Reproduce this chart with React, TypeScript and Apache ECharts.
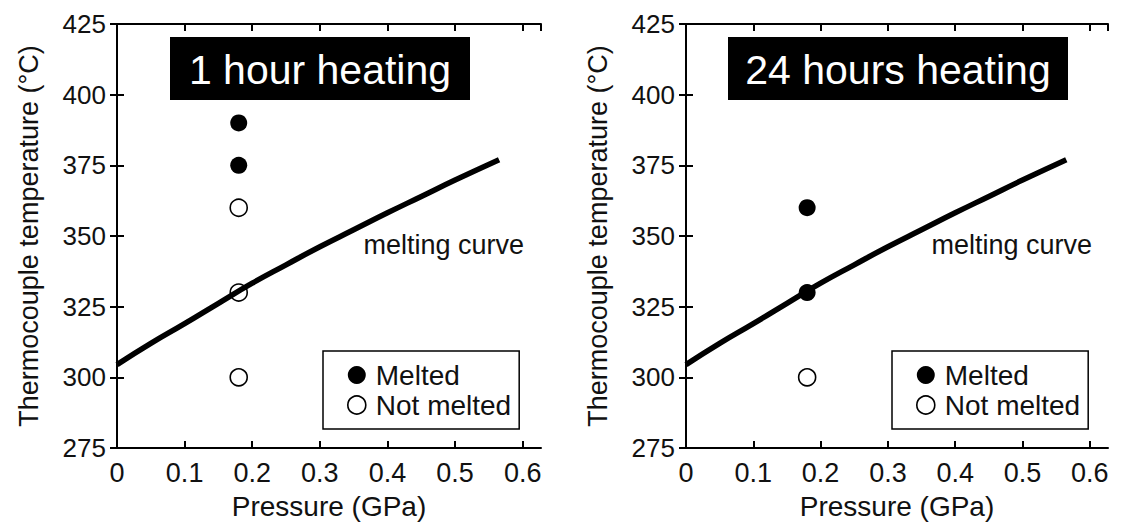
import React, { useEffect, useRef } from "react";
import * as echarts from "echarts";

// ---- data ----
const curvePressure = [0, 0.05, 0.1, 0.15, 0.2, 0.25, 0.3, 0.35, 0.4, 0.45, 0.5, 0.565];
const curveTemp = [304.5, 312, 319, 326.2, 333.3, 339.8, 346.2, 352.2, 358.2, 364, 369.8, 377];

const h1MeltedP = [0.18, 0.18];
const h1MeltedT = [390, 375];
const h1NotMeltedP = [0.18, 0.18, 0.18];
const h1NotMeltedT = [360, 330, 300];

const h24MeltedP = [0.18, 0.18];
const h24MeltedT = [360, 330];
const h24NotMeltedP = [0.18];
const h24NotMeltedT = [300];

const panelTitles = ["1 hour heating", "24 hours heating"];
const seriesNames = ["Melted", "Not melted"];
const curveLabel = "melting curve";
const xName = "Pressure (GPa)";
const yName = "Thermocouple temperature (°C)";

const X_MIN = 0, X_MAX = 0.627, X_INT = 0.1;
const Y_MIN = 275, Y_MAX = 425, Y_INT = 25;

const FONT = "'Liberation Sans', Arial, Helvetica, sans-serif";

const zip = (a: number[], b: number[]) => a.map((v, i) => [v, b[i]]);

export default function App() {
  const ref = useRef<HTMLDivElement>(null);
  useEffect(() => {
    if (!ref.current) return;
    const chart = echarts.init(ref.current, undefined, { renderer: "svg" });

    const grids = [
      { left: 117, top: 24, width: 424, height: 424 },
      { left: 686, top: 24, width: 422, height: 424 },
    ];

    const xLabelFmt = (v: number) => {
      const r = Math.round(v * 10);
      if (Math.abs(v * 10 - r) > 1e-6) return "";
      return r === 0 ? "0" : (r / 10).toFixed(1);
    };

    const axisLine = { show: true, lineStyle: { color: "#000", width: 2 } };
    const axisTick = { show: true, inside: true, length: 7, lineStyle: { color: "#000", width: 2 } };

    const xAxes: any[] = [];
    const yAxes: any[] = [];
    grids.forEach((_, gi) => {
      xAxes.push({
        type: "value", gridIndex: gi, position: "bottom", min: X_MIN, max: X_MAX, interval: X_INT,
        axisLine, axisTick, splitLine: { show: false },
        axisLabel: { show: true, formatter: xLabelFmt, color: "#111", fontSize: 27, fontFamily: FONT, margin: 11, showMaxLabel: false },
        name: xName, nameLocation: "middle", nameGap: 44,
        nameTextStyle: { color: "#111", fontSize: 28, fontFamily: FONT },
      });
      xAxes.push({
        type: "value", gridIndex: gi, position: "top", min: X_MIN, max: X_MAX, interval: X_INT,
        axisLine, axisTick, splitLine: { show: false }, axisLabel: { show: false },
      });
      yAxes.push({
        type: "value", gridIndex: gi, position: "left", min: Y_MIN, max: Y_MAX, interval: Y_INT,
        axisLine, axisTick, splitLine: { show: false },
        axisLabel: { show: true, color: "#111", fontSize: 26, fontFamily: FONT, margin: 11 },
        name: yName, nameLocation: "middle", nameGap: 75, nameRotate: 90,
        nameTextStyle: { color: "#111", fontSize: 27, fontFamily: FONT },
      });
      yAxes.push({
        type: "value", gridIndex: gi, position: "right", min: Y_MIN, max: Y_MAX, interval: Y_INT,
        axisLine, axisTick, splitLine: { show: false }, axisLabel: { show: false },
      });
    });

    const filled = { color: "#000", borderColor: "#000", borderWidth: 0, opacity: 1 };
    const open = { color: "#fff", borderColor: "#000", borderWidth: 1.6, opacity: 1 };

    const panelData = [
      { m: zip(h1MeltedP, h1MeltedT), n: zip(h1NotMeltedP, h1NotMeltedT) },
      { m: zip(h24MeltedP, h24MeltedT), n: zip(h24NotMeltedP, h24NotMeltedT) },
    ];

    const series: any[] = [];
    panelData.forEach((pd, gi) => {
      series.push({
        type: "scatter", name: seriesNames[1], xAxisIndex: gi * 2, yAxisIndex: gi * 2,
        data: pd.n, symbol: "circle", symbolSize: 17, itemStyle: open, z: 2,
      });
      series.push({
        type: "line", name: curveLabel, xAxisIndex: gi * 2, yAxisIndex: gi * 2,
        data: zip(curvePressure, curveTemp), smooth: true, showSymbol: false, symbol: "none",
        lineStyle: { color: "#000", width: 5.5 }, z: 3,
      });
      series.push({
        type: "scatter", name: seriesNames[0], xAxisIndex: gi * 2, yAxisIndex: gi * 2,
        data: pd.m, symbol: "circle", symbolSize: 17, itemStyle: filled, z: 4,
      });
    });

    const legendLefts = [323, 892];
    const legends = legendLefts.map((l) => ({
      orient: "vertical",
      left: l,
      top: 351,
      padding: [10, 8, 10, 24],
      itemGap: 2,
      itemWidth: 28,
      itemHeight: 18,
      borderColor: "#000",
      borderWidth: 1.5,
      backgroundColor: "#fff",
      selectedMode: false,
      textStyle: { color: "#111", fontSize: 28, fontFamily: FONT, lineHeight: 28 },
      data: [
        { name: seriesNames[0], icon: "circle", itemStyle: { color: "#000", borderWidth: 0, opacity: 1 } },
        { name: seriesNames[1], icon: "circle", itemStyle: { color: "#fff", borderColor: "#000", borderWidth: 1.6, opacity: 1 } },
      ],
    }));

    const titleBoxes = [
      { x: 170, y: 37, w: 300, h: 63 },
      { x: 728, y: 37, w: 340, h: 63 },
    ];
    const graphic: any[] = [];
    titleBoxes.forEach((b, i) => {
      graphic.push({
        type: "rect", z: 10, shape: { x: b.x, y: b.y, width: b.w, height: b.h },
        style: { fill: "#000" },
      });
      graphic.push({
        type: "text", z: 11, x: b.x + b.w / 2, y: b.y + b.h / 2 + 1,
        style: {
          text: panelTitles[i], fill: "#fff", font: `41px ${FONT}`,
          textAlign: "center", textVerticalAlign: "middle", verticalAlign: "middle",
        },
      });
    });
    [524, 1092].forEach((xr) => {
      graphic.push({
        type: "text", z: 11, x: xr, y: 245,
        style: {
          text: curveLabel, fill: "#111", font: `27px ${FONT}`,
          textAlign: "right", textVerticalAlign: "middle", verticalAlign: "middle",
        },
      });
    });

    chart.setOption({
      animation: false,
      backgroundColor: "#fff",
      grid: grids,
      xAxis: xAxes,
      yAxis: yAxes,
      legend: legends,
      series,
      graphic,
    });
    return () => chart.dispose();
  }, []);

  return (
    <div
      ref={ref}
      style={{ position: "fixed", left: 0, top: 0, width: 1121, height: 527, background: "#fff" }}
    />
  );
}
